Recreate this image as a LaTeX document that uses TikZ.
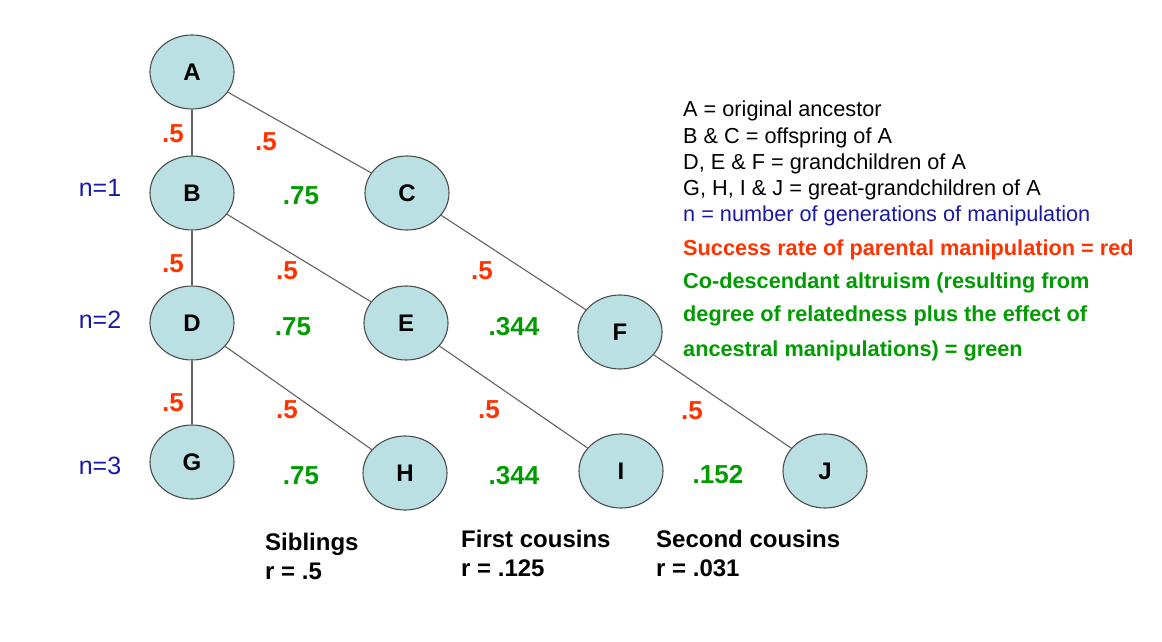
\documentclass[tikz,border=0pt]{standalone}
\usepackage{fontspec}
\setmainfont{Liberation Sans}
\usetikzlibrary{shapes.geometric, positioning}
\definecolor{cellfill}{RGB}{187,224,227}
\definecolor{ratered}{RGB}{255,51,0}
\definecolor{altgreen}{RGB}{0,155,0}
\definecolor{genblue}{RGB}{25,25,165}
\newcommand{\fsz}[1]{\fontsize{#1}{#1}\selectfont}

\begin{document}
\begin{tikzpicture}[x=1pt, y=-1pt,
    person/.style={ellipse, draw=black!70, line width=1.1pt, fill=cellfill, minimum width=84pt, minimum height=74pt, inner sep=0pt, font=\fsz{24}\bfseries},
    link/.style={draw=black!62, line width=1.1pt},
    rate/.style={text=ratered, inner sep=0pt, font=\fsz{26}\bfseries},
    altr/.style={text=altgreen, inner sep=0pt, font=\fsz{26}\bfseries},
    gen/.style={text=genblue, inner sep=0pt, font=\fsz{25}},
    key/.style={anchor=base west, inner sep=0pt, font=\fsz{21.7}},
    kin/.style={anchor=north west, inner sep=0pt, align=left, font=\fontsize{24}{29}\selectfont\bfseries}
]
    \useasboundingbox (0,0) rectangle (1162,642);

    % Generations
    \node[person] (a) at (192,72) {A};
    \node[person] (b) at (192,193) {B};
    \node[person] (c) at (407,193) {C};
    \node[person] (d) at (192,323) {D};
    \node[person] (e) at (406,323) {E};
    \node[person] (f) at (620,332) {F};
    \node[person] (g) at (192,462) {G};
    \node[person] (h) at (405,473) {H};
    \node[person] (i) at (621,471) {I};
    \node[person] (j) at (825,471) {J};

    % Lines of descent
    \draw[link] (a) -- (b);
    \draw[link] (a) -- (c);
    \draw[link] (b) -- (d);
    \draw[link] (b) -- (e);
    \draw[link] (c) -- (f);
    \draw[link] (d) -- (g);
    \draw[link] (d) -- (h);
    \draw[link] (e) -- (i);
    \draw[link] (f) -- (j);

    % Manipulation success rates
    \node[rate] (rab) at (173,134) {.5};
    \node[rate] (rac) at (266,142) {.5};
    \node[rate] (rbd) at (173,264) {.5};
    \node[rate] (rbe) at (287,271) {.5};
    \node[rate] (rcf) at (482,271) {.5};
    \node[rate] (rdg) at (173,403) {.5};
    \node[rate] (rdh) at (287,410) {.5};
    \node[rate] (rei) at (489,410) {.5};
    \node[rate] (rfj) at (692,411) {.5};

    % Co-descendant altruism
    \node[altr] (sib1) at (301,196) {.75};
    \node[altr] (sib2) at (293,327) {.75};
    \node[altr] (sib3) at (301,476) {.75};
    \node[altr] (cou1) at (514,327) {.344};
    \node[altr] (cou2) at (514,476) {.344};
    \node[altr] (cou3) at (718,475) {.152};

    % Generations of manipulation
    \node[gen] (n1) at (100,188) {n=1};
    \node[gen] (n2) at (100,320) {n=2};
    \node[gen] (n3) at (100,466) {n=3};

    % Key
    \node[key] (k1) at (683,116.5) {A = original ancestor};
    \node[key] (k2) at (683,143) {B \& C = offspring of A};
    \node[key] (k3) at (683,169) {D, E \& F = grandchildren of A};
    \node[key] (k4) at (683,195) {G, H, I \& J = great-grandchildren of A};
    \node[key, text=genblue] (k5) at (683,221.5) {n = number of generations of manipulation};
    \node[key, text=ratered, font=\fsz{21.7}\bfseries] (k6) at (683,255) {Success rate of parental manipulation = red};
    \node[key, text=altgreen, font=\fsz{21.7}\bfseries] (k7) at (683,288) {Co-descendant altruism (resulting from};
    \node[key, text=altgreen, font=\fsz{21.7}\bfseries] (k8) at (683,321.5) {degree of relatedness plus the effect of};
    \node[key, text=altgreen, font=\fsz{21.7}\bfseries] (k9) at (683,356) {ancestral manipulations) = green};

    % Relatedness
    \node[kin] (sibs) at (265,533) {Siblings\\r = .5};
    \node[kin] (first) at (461,530) {First cousins\\r = .125};
    \node[kin] (second) at (656,530) {Second cousins\\r = .031};
\end{tikzpicture}
\end{document}
